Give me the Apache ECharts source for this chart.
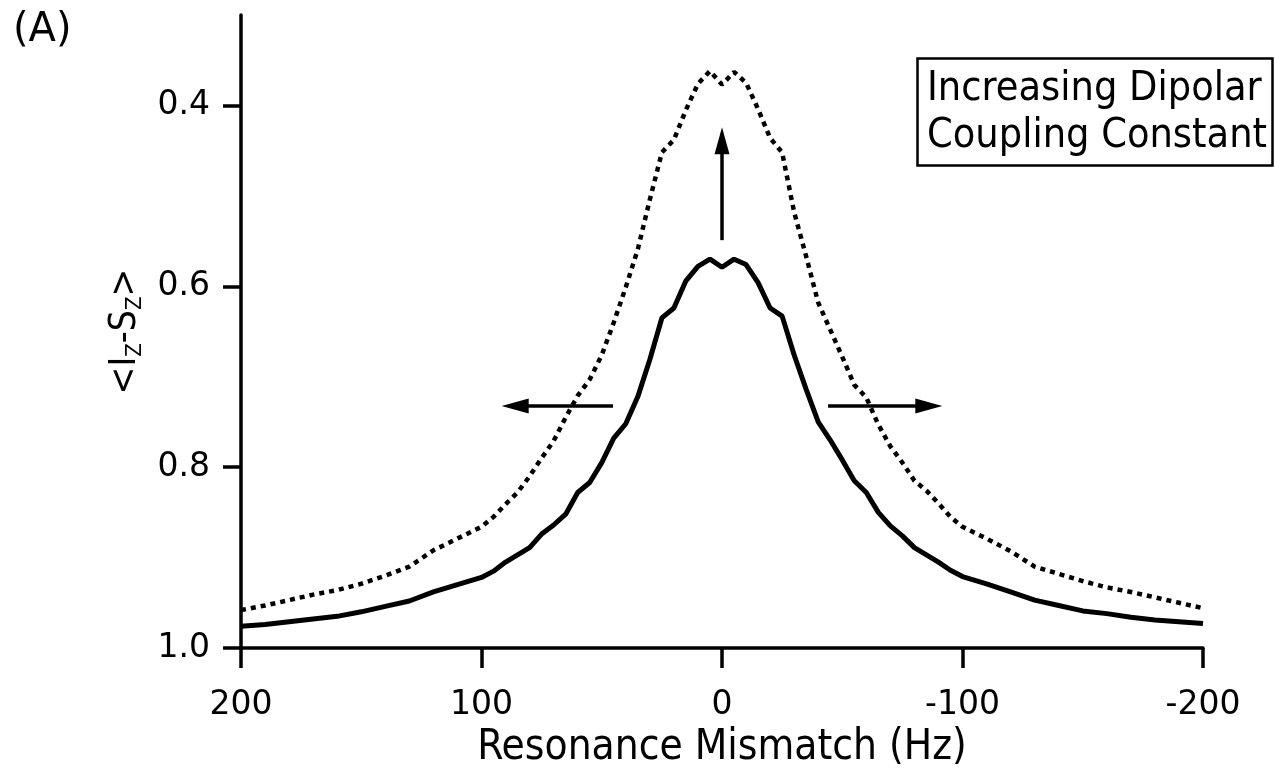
<!DOCTYPE html>
<html>
<head>
<meta charset="utf-8">
<script src="https://cdn.jsdelivr.net/npm/echarts@6/dist/echarts.min.js"></script>
<style>
html,body{margin:0;padding:0;background:#fff;}
#chart{width:1275px;height:771px;}
</style>
</head>
<body>
<div id="chart"></div>
<script>
// Resonance mismatch (Hz)
var mismatch = [200,190,180,170,160,150,140,130,120,110,100,95,90,85,80,75,70,65,60,55,50,45,40,35,30,25,20,15,10,5,0,
  -5,-10,-15,-20,-25,-30,-35,-40,-45,-50,-55,-60,-65,-70,-75,-80,-85,-90,-95,-100,-110,-120,-130,-140,-150,-160,-170,-180,-190,-200];
// <Iz-Sz>, solid curve
var solidCurve = [0.976,0.974,0.971,0.968,0.965,0.960,0.954,0.948,0.938,0.930,0.922,0.915,0.905,0.897,0.889,0.874,0.864,0.852,0.828,0.817,0.795,0.768,0.752,0.722,0.681,0.635,0.624,0.594,0.578,0.570,0.579,
  0.570,0.576,0.596,0.624,0.633,0.676,0.714,0.750,0.770,0.792,0.815,0.828,0.850,0.865,0.876,0.889,0.897,0.905,0.914,0.921,0.929,0.938,0.947,0.953,0.959,0.962,0.966,0.969,0.971,0.973];
// <Iz-Sz>, dotted curve (increased dipolar coupling)
var dottedCurve = [0.958,0.953,0.947,0.941,0.936,0.929,0.920,0.910,0.892,0.879,0.866,0.855,0.841,0.828,0.810,0.790,0.771,0.745,0.721,0.703,0.676,0.640,0.601,0.559,0.504,0.452,0.438,0.405,0.376,0.362,0.377,
  0.363,0.375,0.404,0.436,0.452,0.518,0.567,0.618,0.648,0.678,0.709,0.723,0.753,0.777,0.795,0.815,0.826,0.840,0.855,0.866,0.879,0.893,0.910,0.918,0.926,0.933,0.938,0.944,0.950,0.956];
// arrows: [fromX, fromY, toX, toY]
var arrows = [[0,0.549,0,0.439],[45.3,0.7325,86,0.7325],[-44.1,0.7325,-86,0.7325]];
var xTicks = [200,100,0,-100,-200];
var yTicks = [0.4,0.6,0.8,1.0];

var chart = echarts.init(document.getElementById('chart'));
var FONT = '"DejaVu Sans", Verdana, sans-serif';
var CFONT = '"DejaVu Sans Condensed", "DejaVu Sans", sans-serif';
function pairs(ys){ return mismatch.map(function(x,i){ return [x, ys[i]]; }); }
var arrowData = arrows.map(function(a){
  return [{coord:[a[0],a[1]], symbol:'none'},{coord:[a[2],a[3]], symbol:'triangle', symbolSize:[15,27]}];
});
chart.setOption({
  animation:false,
  backgroundColor:'#fff',
  title:[
    {text:'(A)', left:8, top:6, textStyle:{fontFamily:FONT, fontSize:40, fontWeight:'normal', color:'#000'}},
    {text:'Increasing Dipolar\nCoupling Constant', left:917, top:58, borderColor:'#000', borderWidth:2.5,
     padding:[8,6,6,10],
     textStyle:{fontFamily:CFONT, fontSize:41, lineHeight:47, fontWeight:'normal', color:'#000'}}
  ],
  grid:{left:241, right:72, top:15, bottom:123, containLabel:false, outerBoundsMode:'none'},
  xAxis:{
    type:'value', inverse:true, min:-200, max:200, interval:100,
    name:'Resonance Mismatch (Hz)', nameLocation:'middle', nameGap:66,
    nameTextStyle:{fontFamily:CFONT, fontSize:42, color:'#000'},
    axisLine:{onZero:false, lineStyle:{color:'#000', width:3.5}},
    axisTick:{length:20, lineStyle:{color:'#000', width:3.5}, customValues:xTicks},
    axisLabel:{fontFamily:FONT, fontSize:33, color:'#000', margin:41, customValues:xTicks},
    splitLine:{show:false}
  },
  yAxis:{
    type:'value', inverse:true, min:0.3, max:1.0,
    name:'<I{s|Z}-S{s|Z}>', nameLocation:'middle', nameRotate:90, nameGap:88,
    nameTextStyle:{fontFamily:CFONT, fontSize:37, color:'#000', lineHeight:42,
      rich:{s:{fontFamily:CFONT, fontSize:22, lineHeight:22, verticalAlign:'bottom', color:'#000'}}},
    axisLine:{onZero:false, lineStyle:{color:'#000', width:3.5}},
    axisTick:{length:18, lineStyle:{color:'#000', width:3.5}, customValues:yTicks},
    axisLabel:{fontFamily:FONT, fontSize:33, color:'#000', margin:31, customValues:yTicks,
      formatter:function(v){ return v.toFixed(1); }},
    splitLine:{show:false}
  },
  series:[
    {type:'line', data:pairs(dottedCurve), showSymbol:false, symbol:'none',
     lineStyle:{color:'#000', width:4.5, type:[5,5], cap:'butt'}},
    {type:'line', data:pairs(solidCurve), showSymbol:false, symbol:'none',
     lineStyle:{color:'#000', width:5},
     markLine:{silent:true, symbol:['none','triangle'], label:{show:false},
       lineStyle:{color:'#000', width:3.5, type:'solid'}, data:arrowData}}
  ]
});
</script>
</body>
</html>
